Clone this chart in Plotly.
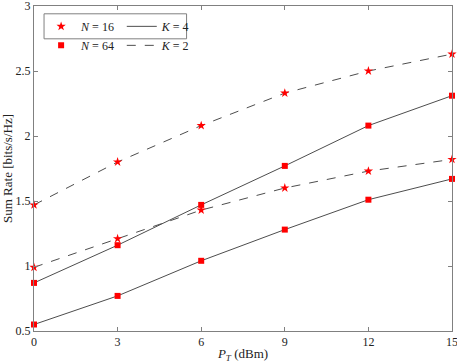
import plotly.graph_objects as go

pt_dbm = [0, 3, 6, 9, 12, 15]
n16_k2 = [1.47, 1.80, 2.08, 2.33, 2.50, 2.63]
n16_k4 = [0.99, 1.21, 1.43, 1.60, 1.73, 1.82]
n64_k2 = [0.87, 1.16, 1.47, 1.77, 2.08, 2.31]
n64_k4 = [0.55, 0.77, 1.04, 1.28, 1.51, 1.67]
x_ticks = [0, 3, 6, 9, 12, 15]
y_ticks = [0.5, 1, 1.5, 2, 2.5, 3]

FONT = "Liberation Serif, Times New Roman, serif"
LINE = "#4d4d4d"
RED = "#ff0000"

fig = go.Figure()

series = [
    (n16_k2, "dash", "star", 7),
    (n16_k4, "dash", "star", 7),
    (n64_k2, "solid", "square", 6),
    (n64_k4, "solid", "square", 6),
]
for ys, dash, sym, sz in series:
    fig.add_trace(go.Scatter(
        x=pt_dbm, y=ys, mode="lines+markers",
        line=dict(color=LINE, width=1, dash=dash),
        marker=dict(symbol=sym, size=sz, color=RED, line=dict(width=0)),
        showlegend=False, cliponaxis=False))

# legend entries
fig.add_trace(go.Scatter(x=[None], y=[None], mode="markers", name="<i>N</i> = 16",
                         marker=dict(symbol="star", size=7, color=RED), legend="legend"))
fig.add_trace(go.Scatter(x=[None], y=[None], mode="markers", name="<i>N</i> = 64",
                         marker=dict(symbol="square", size=6, color=RED), legend="legend"))
fig.add_trace(go.Scatter(x=[None], y=[None], mode="lines", name="<i>K</i> = 4",
                         line=dict(color=LINE, width=1), legend="legend2"))
fig.add_trace(go.Scatter(x=[None], y=[None], mode="lines", name="<i>K</i> = 2",
                         line=dict(color=LINE, width=1, dash="dash"), legend="legend2"))

axis_common = dict(
    showline=True, linecolor="#808080", linewidth=1, mirror="ticks",
    ticks="inside", ticklen=4, tickcolor="#808080", showgrid=False, zeroline=False,
    ticklabeloverflow="allow", automargin=False,
    tickfont=dict(family=FONT, size=12, color="#222"),
)

fig.update_layout(
    width=457, height=363,
    margin=dict(l=34, r=5, t=6, b=32),
    paper_bgcolor="white", plot_bgcolor="white",
    font=dict(family=FONT, size=12, color="#222"),
    xaxis=dict(range=[0, 15], tickvals=x_ticks,
               title=dict(text="<i>P<sub>T</sub></i> (dBm)", standoff=4,
                          font=dict(family=FONT, size=13)),
               **axis_common),
    yaxis=dict(range=[0.5, 3], tickvals=y_ticks, ticktext=[str(v) for v in y_ticks],
               title=dict(text="Sum Rate [bits/s/Hz]", standoff=7,
                          font=dict(family=FONT, size=13)),
               **axis_common),
    legend=dict(x=0.017, y=0.982, xanchor="left", yanchor="top", bgcolor="rgba(0,0,0,0)",
                borderwidth=0, font=dict(family=FONT, size=12), tracegroupgap=0,
                itemwidth=30),
    legend2=dict(x=0.21, y=0.982, xanchor="left", yanchor="top", bgcolor="rgba(0,0,0,0)",
                 borderwidth=0, font=dict(family=FONT, size=12), tracegroupgap=0,
                 itemwidth=30),
    shapes=[dict(type="rect", xref="paper", yref="paper", x0=0.024, x1=0.365,
                 y0=0.899, y1=0.976, line=dict(color="#808080", width=1),
                 fillcolor="white", layer="below")],
)

fig.write_html("out.html", config={"displayModeBar": False},
               post_script="document.body.style.margin='0';")
